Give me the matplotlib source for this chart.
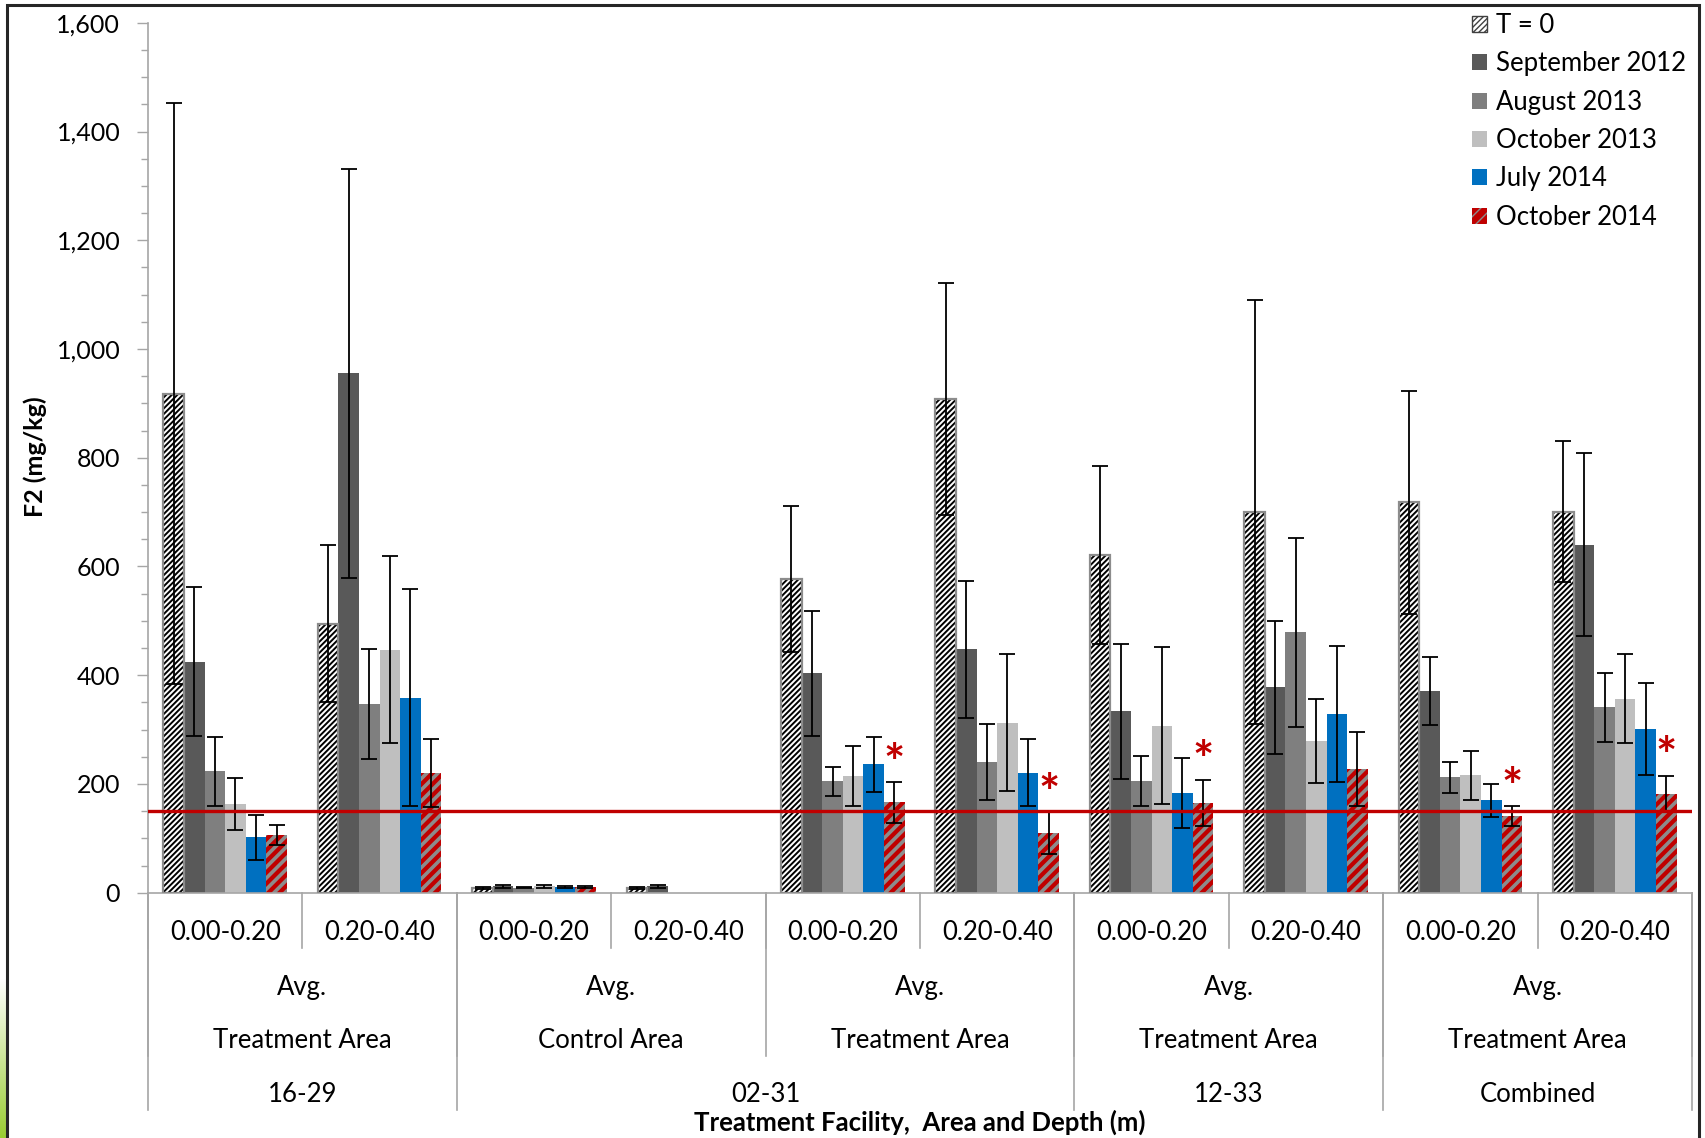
import numpy as np
import matplotlib
matplotlib.use("Agg")
import matplotlib.pyplot as plt
from matplotlib.patches import Patch, Rectangle
from matplotlib import transforms
from matplotlib.ticker import FuncFormatter, MultipleLocator
from matplotlib.colors import LinearSegmentedColormap

nan = np.nan

# ---------------- data ----------------
depths = ["0.00-0.20", "0.20-0.40"] * 5
avg_labels = ["Avg.", "Avg.", "Avg.", "Avg.", "Avg."]
area_labels = ["Treatment Area", "Control Area", "Treatment Area", "Treatment Area", "Treatment Area"]
area_sizes = [2, 2, 2, 2, 2]
facility_labels = ["16-29", "02-31", "12-33", "Combined"]
facility_sizes = [2, 4, 2, 2]

series_names = ["T = 0", "September 2012", "August 2013", "October 2013", "July 2014", "October 2014"]

t0 = [918, 495, 9, 9, 577, 908, 621, 701, 718, 701]
t0_err = [535, 145, 2, 2, 134, 213, 163, 390, 205, 130]
sep12 = [425, 955, 12, 12, 404, 448, 334, 378, 371, 640]
sep12_err = [137, 377, 3, 3, 115, 126, 124, 122, 62, 168]
aug13 = [223, 347, 9, nan, 205, 240, 206, 479, 212, 341]
aug13_err = [64, 102, 1, nan, 27, 70, 46, 174, 29, 63]
oct13 = [163, 447, 12, nan, 215, 313, 307, 279, 216, 357]
oct13_err = [48, 172, 3, nan, 55, 126, 144, 78, 45, 82]
jul14 = [102, 359, 10, nan, 236, 221, 183, 328, 170, 301]
jul14_err = [41, 199, 2, nan, 51, 62, 64, 125, 30, 85]
oct14 = [106, 220, 11, nan, 166, 110, 165, 227, 141, 182]
oct14_err = [19, 62, 2, nan, 37, 38, 43, 68, 18, 33]
oct14_significant = [False, False, False, False, True, True, True, False, True, True]

threshold = 150

# ---------------- styling ----------------
FONT = ["Lato", "DejaVu Sans"]
plt.rcParams["font.family"] = FONT

W, H = 1705, 1138
fig = plt.figure(figsize=(W / 100, H / 100), dpi=100)
fig.patch.set_facecolor("white")

def fy(p):
    return 1 - p / H

ax_left, ax_right = 148 / W, 1692 / W
ax_bot, ax_top = fy(892.7), fy(22.8)
ax = fig.add_axes([ax_left, ax_bot, ax_right - ax_left, ax_top - ax_bot])

values = [t0, sep12, aug13, oct13, jul14, oct14]
errors = [t0_err, sep12_err, aug13_err, oct13_err, jul14_err, oct14_err]
faces = ["white", "#595959", "#7f7f7f", "#bfbfbf", "#0070c0", "#c00000"]
hatches = ["//////", None, None, None, None, "///"]
hatch_cols = ["black", None, None, None, None, "#8c8c8c"]
hatch_lws = [1.4, 1.0, 1.0, 1.0, 1.0, 2.6]

n = len(depths)
x = np.arange(n)
nser = len(values)
bw = 0.8 / nser

for i, (vals, errs) in enumerate(zip(values, errors)):
    pos = x - 0.4 + bw * (i + 0.5)
    v = np.array(vals, dtype=float)
    e = np.array(errs, dtype=float)
    with plt.rc_context({"hatch.linewidth": hatch_lws[i]}):
        if hatches[i]:
            ax.bar(pos, v, width=bw, color=faces[i], edgecolor=hatch_cols[i],
                   hatch=hatches[i], linewidth=0, zorder=2)
        else:
            ax.bar(pos, v, width=bw, color=faces[i], linewidth=0, zorder=2)
    if i == 0:
        ax.bar(pos, v, width=bw, fill=False, edgecolor="#8c8c8c", linewidth=1.6, zorder=3)
    ax.errorbar(pos, v, yerr=e, fmt="none", ecolor="black", elinewidth=1.3,
                capsize=6, capthick=1.3, zorder=4)

# significance markers
pos_oct14 = x - 0.4 + bw * (nser - 0.5)
for px, v, e, s in zip(pos_oct14, oct14, oct14_err, oct14_significant):
    if s:
        ax.annotate("*", xy=(px, v + e), xytext=(0, -4), textcoords="offset points",
                    ha="center", va="bottom", color="#c00000", fontsize=36,
                    fontweight="bold", zorder=6)

ax.axhline(threshold, color="#c00000", linewidth=2.4, zorder=5)

ax.set_xlim(-0.5, n - 0.5)
ax.set_ylim(0, 1600)
ax.yaxis.set_major_locator(MultipleLocator(200))
ax.yaxis.set_minor_locator(MultipleLocator(50))
ax.yaxis.set_major_formatter(FuncFormatter(lambda v, p: f"{int(v):,}"))
ax.tick_params(axis="y", which="major", length=8, width=1, color="#a6a6a6",
               labelsize=18, pad=12, labelcolor="black")
ax.tick_params(axis="y", which="minor", length=5, width=1, color="#a6a6a6")
ax.set_xticks([])
for s in ["top", "right"]:
    ax.spines[s].set_visible(False)
for s in ["left", "bottom"]:
    ax.spines[s].set_color("#a6a6a6")
    ax.spines[s].set_linewidth(1.2)

# ---------------- hierarchical x labels ----------------
blend = transforms.blended_transform_factory(ax.transData, fig.transFigure)
y0 = ax_bot
line_kw = dict(color="#a6a6a6", linewidth=1.2, transform=blend, clip_on=False)

for k in range(n + 1):
    b = k - 0.5
    ax.plot([b, b], [y0, fy(948)], **line_kw)
edges = np.concatenate([[0], np.cumsum(area_sizes)]) - 0.5
for b in edges:
    ax.plot([b, b], [y0, fy(1056)], **line_kw)
fedges = np.concatenate([[0], np.cumsum(facility_sizes)]) - 0.5
for b in fedges:
    ax.plot([b, b], [y0, fy(1110)], **line_kw)

lab_kw = dict(transform=blend, ha="center", va="center", fontsize=18.5, color="black")
for k, d in enumerate(depths):
    ax.text(k, fy(933), d, **lab_kw)
for j in range(len(area_sizes)):
    c = (edges[j] + edges[j + 1]) / 2
    ax.text(c, fy(987), avg_labels[j], **lab_kw)
    ax.text(c, fy(1040), area_labels[j], **lab_kw)
for j in range(len(facility_sizes)):
    c = (fedges[j] + fedges[j + 1]) / 2
    ax.text(c, fy(1094), facility_labels[j], **lab_kw)

fig.text((ax_left + ax_right) / 2, fy(1122), "Treatment Facility,  Area and Depth (m)",
         ha="center", va="center", fontsize=18.5, fontweight="bold")
fig.text(35 / W, fy(457), "F2 (mg/kg)", rotation=90, ha="center", va="center",
         fontsize=18, fontweight="bold")

# ---------------- legend ----------------
handles = []
for i, nm in enumerate(series_names):
    if i == 0:
        h = Patch(facecolor="white", edgecolor="#404040", hatch="//////", linewidth=1.0, label=nm)
    elif i == 5:
        h = Patch(facecolor="#c00000", edgecolor="#8c8c8c", hatch="///", linewidth=0, label=nm)
    else:
        h = Patch(facecolor=faces[i], linewidth=0, label=nm)
    handles.append(h)
leg = fig.legend(handles=handles, loc="upper left", bbox_to_anchor=(1472 / W, fy(13)),
                 frameon=False, fontsize=18.5, handlelength=0.58, handleheight=0.58,
                 handletextpad=0.36, labelspacing=0.52, borderpad=0, borderaxespad=0)

# ---------------- frame and decoration ----------------
fig.add_artist(Rectangle((7 / W, -0.02), (1699 - 7) / W, fy(5) + 0.02, transform=fig.transFigure,
                         fill=False, edgecolor="#262626", linewidth=2.2))
gax = fig.add_axes([0, 0, 6 / W, 160 / H])
grad = np.linspace(0, 1, 100)[:, None]
cm = LinearSegmentedColormap.from_list("g", ["#9acd32", "#ffffff"])
gax.imshow(grad, aspect="auto", cmap=cm, origin="lower")
gax.axis("off")

fig.savefig("out.png", dpi=100)
